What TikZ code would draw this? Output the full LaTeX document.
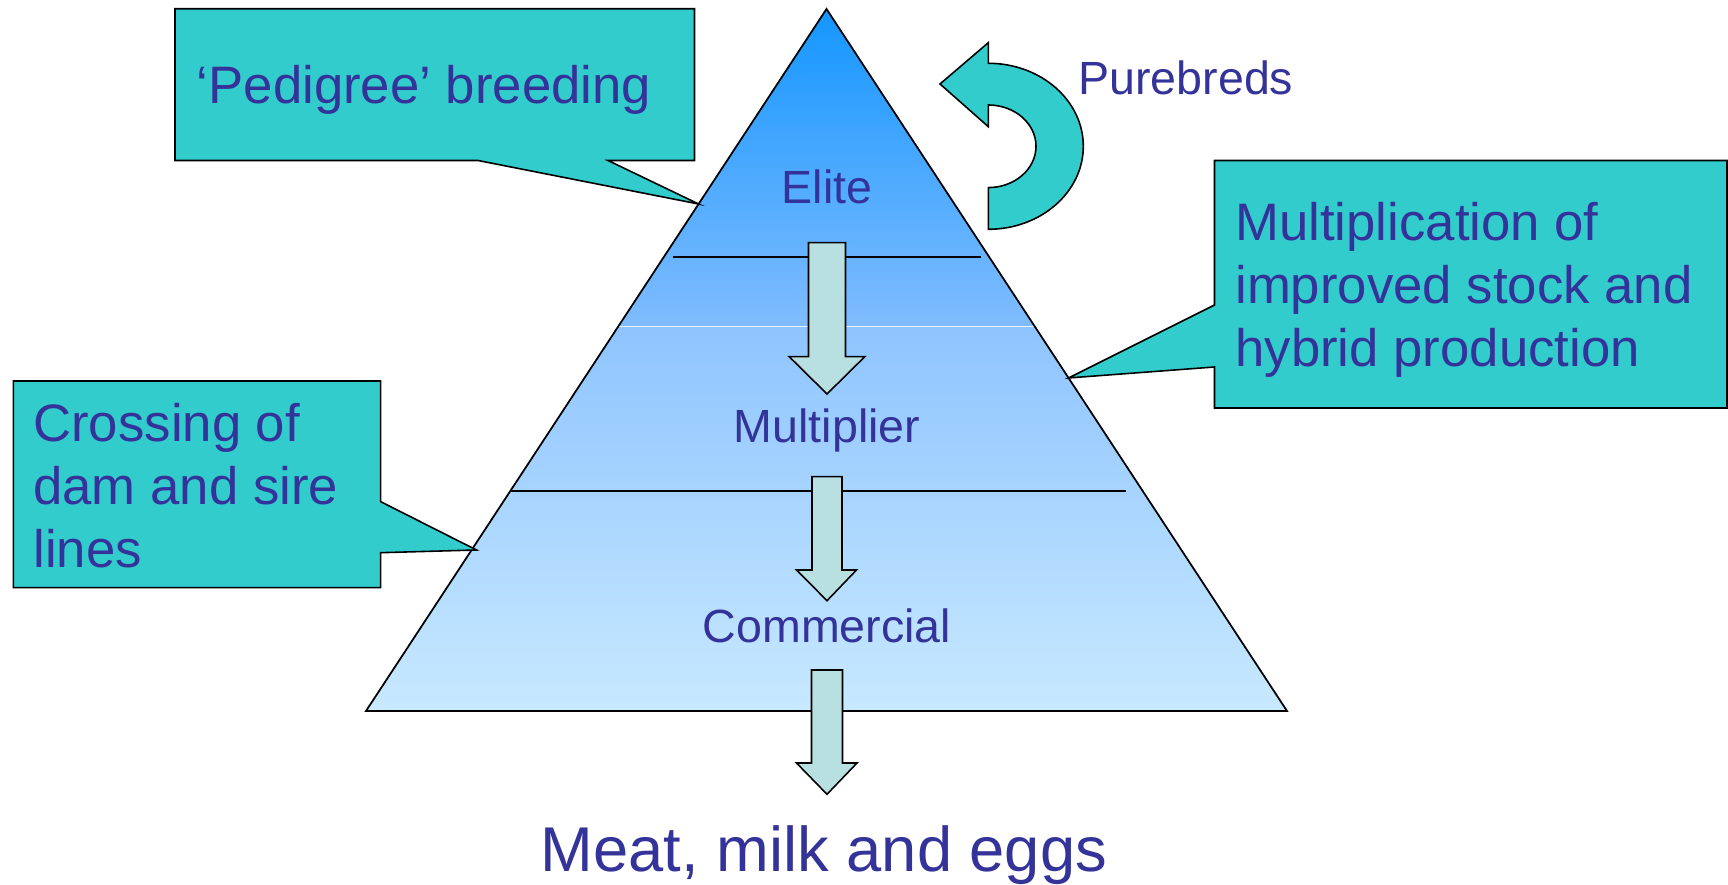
\documentclass[tikz,border=0pt]{standalone}
\usepackage{fontspec}
\setmainfont{Liberation Sans}
\usetikzlibrary{calc}
\definecolor{azultexto}{HTML}{333399}
\definecolor{turquesa}{HTML}{33CCCC}
\definecolor{flechagris}{HTML}{B9E0E0}
\definecolor{piramide1}{RGB}{20,150,255}
\definecolor{piramide2}{RGB}{128,188,255}
\definecolor{piramide3}{RGB}{142,196,255}
\definecolor{piramide4}{RGB}{200,233,255}

\begin{document}
\begin{tikzpicture}[
    globo/.style={draw=black, line width=0.9pt, fill=turquesa, line join=miter},
    bloque/.style={draw=black, line width=0.9pt, fill=flechagris},
    nivel/.style={text=azultexto, font=\fontsize{26.5}{32}\selectfont, anchor=base, inner sep=0pt},
    texto/.style={text=azultexto, font=\fontsize{30}{36}\selectfont, anchor=base west, align=left, inner sep=0pt}
]
    \useasboundingbox (0,0) rectangle (34.56,17.70);
    % Vértices de la pirámide
    \coordinate (apex) at (16.53,17.52);
    \coordinate (bl) at (7.32,3.48);
    \coordinate (br) at (25.74,3.48);
    \coordinate (sl) at ($(apex)!0.4516!(bl)$);
    \coordinate (sr) at ($(apex)!0.4516!(br)$);
    % Relleno degradado
    \shade[top color=piramide1, bottom color=piramide2] (apex) -- (sl) -- (sr) -- cycle;
    \shade[top color=piramide3, bottom color=piramide4] (sl) -- (bl) -- (br) -- (sr) -- cycle;
    \draw[white, opacity=0.8, line width=0.5pt] (sl) -- (sr);
    \draw[line width=1pt, line join=miter] (apex) -- (bl) -- (br) -- cycle;
    % Divisiones
    \draw[line width=1pt] (13.46,12.56) -- (19.62,12.56);
    \draw[line width=1pt] (10.22,7.886) -- (22.52,7.886);
    % Flechas entre niveles
    \draw[bloque] (16.17,12.846) -- (16.91,12.846) -- (16.91,10.566) -- (17.295,10.566) -- (16.54,9.82) -- (15.785,10.566) -- (16.17,10.566) -- cycle;
    \draw[bloque] (16.24,8.166) -- (16.84,8.166) -- (16.84,6.30) -- (17.13,6.30) -- (16.54,5.686) -- (15.93,6.30) -- (16.24,6.30) -- cycle;
    \draw[bloque] (16.23,4.30) -- (16.85,4.30) -- (16.85,2.44) -- (17.14,2.44) -- (16.54,1.814) -- (15.93,2.44) -- (16.23,2.44) -- cycle;
    % Niveles
    \node[nivel] (elite) at (16.54,13.62) {Elite};
    \node[nivel] (multiplier) at (16.54,8.846) {Multiplier};
    \node[nivel] (commercial) at (16.54,4.84) {Commercial};
    \node[nivel, font=\fontsize{36}{43}\selectfont] (meat) at (16.48,0.266) {Meat, milk and eggs};
    % Flecha curva
    \draw[globo] (19.766,15.60) -- (19.766,15.166) -- (18.80,16.02) -- (19.766,16.846) -- (19.766,16.434)
        arc[start angle=90, end angle=-90, x radius=1.90, y radius=1.66] -- (19.766,13.948)
        arc[start angle=-90, end angle=90, x radius=0.954, y radius=0.826] -- cycle;
    \node[texto, font=\fontsize{26.5}{32}\selectfont] (purebreds) at (21.56,15.8) {Purebreds};
    % Globos
    \draw[globo] (3.50,17.524) -- (13.89,17.524) -- (13.89,14.49) -- (12.16,14.49) -- ($(apex)!0.2778!(bl)$) -- (9.56,14.49) -- (3.50,14.49) -- cycle;
    \draw[globo] (0.266,10.08) -- (7.614,10.08) -- (7.614,7.666) -- (9.53,6.70) -- (7.614,6.646) -- (7.614,5.946) -- (0.266,5.946) -- cycle;
    \draw[globo] (24.29,14.49) -- (34.54,14.49) -- (34.54,9.54) -- (24.29,9.54) -- (24.29,10.36) -- ($(apex)!0.5256!(br)$) -- (24.29,11.6) -- cycle;
    \node[texto] (pedigree) at (3.93,15.63) {‘Pedigree’ breeding};
    \node[texto] (cruce) at (0.66,6.34) {Crossing of\\dam and sire\\lines};
    \node[texto] (multiplicacion) at (24.7,10.36) {Multiplication of\\improved stock and\\hybrid production};
\end{tikzpicture}
\end{document}
